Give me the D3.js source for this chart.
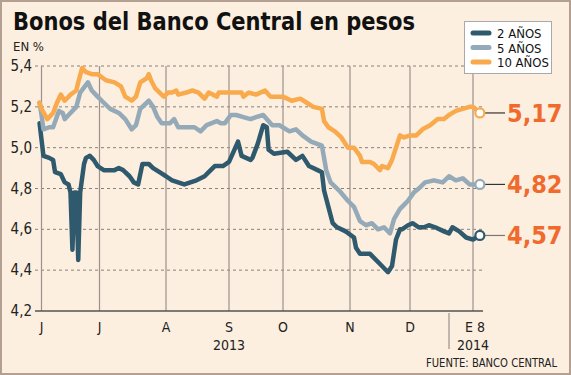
<!DOCTYPE html>
<html>
<head>
<meta charset="utf-8">
<script src="https://cdn.jsdelivr.net/npm/d3@7"></script>
<style>
  body { margin: 0; background: #fff; }
  svg text { font-family: "DejaVu Sans Condensed", "Liberation Sans Narrow", "DejaVu Sans", sans-serif; }
</style>
</head>
<body>
<svg id="chart" width="571" height="375"></svg>
<script>
// Bonos del Banco Central en pesos, tasas en %

const seriesNames = ["2 AÑOS", "5 AÑOS", "10 AÑOS"];
const seriesColors = ["#2f5a6e", "#94aab8", "#f8aa4c"];

const yTicks = [4.2, 4.4, 4.6, 4.8, 5.0, 5.2, 5.4];

// month marks on the x axis (the source spaces them unevenly)
const monthDates = ["2013-06-01", "2013-07-01", "2013-08-01", "2013-09-01", "2013-10-01",
                    "2013-11-01", "2013-12-01", "2014-01-08"];
const monthLabels = ["J", "J", "A", "S", "O", "N", "D", "E 8"];
const yearLabels = [["2013-09-01", "2013"], ["2014-01-08", "2014"]];
const yearBreak = "2014-01-01";

const bono2 = [
  ["2013-05-31",5.12],["2013-06-02",4.96],["2013-06-05",4.95],["2013-06-07",4.94],["2013-06-08",4.88],
  ["2013-06-11",4.87],["2013-06-13",4.83],["2013-06-15",4.82],["2013-06-16",4.78],["2013-06-17",4.50],
  ["2013-06-18",4.78],["2013-06-19",4.78],["2013-06-20",4.45],["2013-06-21",4.78],["2013-06-23",4.92],
  ["2013-06-24",4.95],["2013-06-26",4.96],["2013-06-28",4.94],["2013-06-30",4.91],["2013-07-03",4.89],
  ["2013-07-08",4.89],["2013-07-10",4.90],["2013-07-12",4.89],["2013-07-15",4.86],["2013-07-17",4.83],
  ["2013-07-19",4.82],["2013-07-21",4.92],["2013-07-24",4.92],["2013-07-26",4.90],["2013-07-29",4.88],
  ["2013-08-01",4.86],["2013-08-04",4.84],["2013-08-07",4.83],["2013-08-10",4.82],["2013-08-13",4.83],
  ["2013-08-16",4.84],["2013-08-20",4.86],["2013-08-22",4.88],["2013-08-25",4.91],["2013-08-29",4.91],
  ["2013-09-01",4.93],["2013-09-03",4.97],["2013-09-06",5.03],["2013-09-08",4.96],["2013-09-13",4.94],
  ["2013-09-14",4.95],["2013-09-17",5.02],["2013-09-20",5.11],["2013-09-22",5.10],["2013-09-23",4.99],
  ["2013-09-26",4.97],["2013-10-03",4.98],["2013-10-07",4.94],["2013-10-10",4.96],["2013-10-13",4.91],
  ["2013-10-17",4.89],["2013-10-19",4.88],["2013-10-20",4.79],["2013-10-22",4.71],["2013-10-24",4.63],
  ["2013-10-26",4.61],["2013-10-30",4.59],["2013-11-03",4.56],["2013-11-04",4.51],["2013-11-06",4.48],
  ["2013-11-11",4.48],["2013-11-16",4.43],["2013-11-20",4.39],["2013-11-22",4.42],["2013-11-24",4.55],
  ["2013-11-26",4.60],["2013-11-27",4.60],["2013-11-30",4.62],["2013-12-03",4.63],["2013-12-08",4.61],
  ["2013-12-12",4.61],["2013-12-16",4.62],["2013-12-21",4.61],["2013-12-28",4.59],["2014-01-01",4.58],
  ["2014-01-02",4.61],["2014-01-04",4.59],["2014-01-06",4.56],["2014-01-08",4.55],["2014-01-09",4.56],
  ["2014-01-10",4.57]
];

const bono5 = [
  ["2013-05-31",5.22],["2013-06-01",5.16],["2013-06-02",5.09],["2013-06-05",5.10],["2013-06-07",5.10],
  ["2013-06-10",5.18],["2013-06-12",5.17],["2013-06-13",5.14],["2013-06-15",5.16],["2013-06-19",5.20],
  ["2013-06-21",5.27],["2013-06-25",5.32],["2013-06-27",5.28],["2013-06-30",5.25],["2013-07-03",5.22],
  ["2013-07-06",5.19],["2013-07-10",5.17],["2013-07-13",5.14],["2013-07-16",5.09],["2013-07-18",5.11],
  ["2013-07-20",5.19],["2013-07-23",5.22],["2013-07-24",5.23],["2013-07-26",5.20],["2013-07-28",5.15],
  ["2013-07-30",5.12],["2013-08-03",5.12],["2013-08-05",5.14],["2013-08-07",5.10],["2013-08-11",5.10],
  ["2013-08-15",5.10],["2013-08-18",5.08],["2013-08-21",5.11],["2013-08-26",5.13],["2013-08-28",5.12],
  ["2013-08-30",5.12],["2013-09-02",5.16],["2013-09-05",5.16],["2013-09-09",5.15],["2013-09-13",5.14],
  ["2013-09-16",5.15],["2013-09-20",5.16],["2013-09-25",5.11],["2013-09-29",5.11],["2013-10-04",5.08],
  ["2013-10-07",5.09],["2013-10-10",5.06],["2013-10-14",5.03],["2013-10-19",5.01],["2013-10-21",4.89],
  ["2013-10-23",4.83],["2013-10-27",4.79],["2013-10-31",4.74],["2013-11-03",4.71],["2013-11-06",4.64],
  ["2013-11-09",4.62],["2013-11-12",4.63],["2013-11-15",4.60],["2013-11-18",4.61],["2013-11-21",4.58],
  ["2013-11-23",4.65],["2013-11-26",4.70],["2013-11-28",4.72],["2013-11-30",4.74],["2013-12-04",4.78],
  ["2013-12-08",4.80],["2013-12-13",4.83],["2013-12-20",4.84],["2013-12-27",4.83],["2014-01-01",4.86],
  ["2014-01-03",4.84],["2014-01-05",4.85],["2014-01-07",4.82],["2014-01-10",4.82]
];

const bono10 = [
  ["2013-05-31",5.22],["2013-06-01",5.19],["2013-06-04",5.14],["2013-06-07",5.17],["2013-06-09",5.22],
  ["2013-06-11",5.26],["2013-06-13",5.23],["2013-06-16",5.26],["2013-06-19",5.28],["2013-06-20",5.32],
  ["2013-06-22",5.39],["2013-06-24",5.37],["2013-06-27",5.36],["2013-06-30",5.36],["2013-07-04",5.33],
  ["2013-07-08",5.32],["2013-07-11",5.30],["2013-07-13",5.25],["2013-07-16",5.23],["2013-07-18",5.25],
  ["2013-07-20",5.32],["2013-07-23",5.34],["2013-07-24",5.36],["2013-07-25",5.33],["2013-07-27",5.29],
  ["2013-07-30",5.26],["2013-07-31",5.25],["2013-08-02",5.27],["2013-08-04",5.27],["2013-08-06",5.28],
  ["2013-08-07",5.26],["2013-08-11",5.27],["2013-08-14",5.28],["2013-08-17",5.27],["2013-08-20",5.24],
  ["2013-08-22",5.27],["2013-08-26",5.25],["2013-08-27",5.27],["2013-08-30",5.27],["2013-09-04",5.27],
  ["2013-09-08",5.27],["2013-09-09",5.25],["2013-09-12",5.27],["2013-09-16",5.26],["2013-09-21",5.28],
  ["2013-09-24",5.25],["2013-10-01",5.25],["2013-10-05",5.23],["2013-10-09",5.24],["2013-10-12",5.22],
  ["2013-10-15",5.20],["2013-10-19",5.19],["2013-10-20",5.13],["2013-10-22",5.10],["2013-10-25",5.08],
  ["2013-10-28",5.05],["2013-10-31",5.00],["2013-11-03",5.00],["2013-11-06",4.96],["2013-11-07",4.93],
  ["2013-11-11",4.93],["2013-11-13",4.92],["2013-11-16",4.89],["2013-11-17",4.91],["2013-11-20",4.90],
  ["2013-11-22",4.94],["2013-11-24",5.00],["2013-11-26",5.06],["2013-11-28",5.05],["2013-12-01",5.06],
  ["2013-12-06",5.06],["2013-12-11",5.09],["2013-12-17",5.11],["2013-12-23",5.14],["2013-12-28",5.14],
  ["2014-01-01",5.16],["2014-01-03",5.18],["2014-01-05",5.19],["2014-01-07",5.20],["2014-01-08",5.20],
  ["2014-01-10",5.17]
];

const allSeries = [bono2, bono5, bono10];

// ─────────────────────────────────────────────
const parse = d3.timeParse("%Y-%m-%d");
const fmt = d3.formatLocale({ decimal: ",", thousands: ".", grouping: [3], currency: ["$", ""] });
const fmtTick = fmt.format(".1f"), fmtLast = fmt.format(".2f");

const W = 571, H = 375;
const plotTop = 66, plotBottom = 311, plotLeft = 35, plotRight = 483;

const svg = d3.select("#chart");

// background and frame
svg.append("rect").attr("x", 1).attr("y", 1).attr("width", W - 2).attr("height", H - 2)
    .attr("fill", "#fcefdf").attr("stroke", "#b4a092").attr("stroke-width", 2);

// piecewise time scale, so the month marks land where the source has them
const xScale = d3.scaleTime()
    .domain(["2013-06-01", "2013-07-01", "2013-08-01", "2013-09-01", "2013-10-01",
             "2013-11-01", "2013-12-01", "2014-01-01", "2014-01-08"].map(parse))
    .range([41.5, 99.5, 166, 229, 283, 350, 410, 449, 473]);

const yScale = d3.scaleLinear().domain([4.2, 5.4]).range([plotBottom, plotTop]);

// title
svg.append("text")
    .attr("x", 13).attr("y", 30)
    .attr("font-size", 24).attr("font-weight", "bold").attr("fill", "#111")
    .attr("textLength", 402).attr("lengthAdjust", "spacingAndGlyphs")
    .text("Bonos del Banco Central en pesos");

svg.append("text")
    .attr("x", 13).attr("y", 51)
    .attr("font-size", 13).attr("fill", "#222")
    .text("EN %");

// horizontal dashed grid + y labels
const yg = svg.append("g");
yTicks.filter(t => t > 4.2).forEach(t => {
    yg.append("line")
        .attr("x1", plotLeft).attr("x2", plotRight)
        .attr("y1", yScale(t)).attr("y2", yScale(t))
        .attr("stroke", "#8a817a").attr("stroke-width", 1)
        .attr("stroke-dasharray", "3,3");
});
yTicks.forEach(t => {
    yg.append("text")
        .attr("x", 32).attr("y", yScale(t) + 5)
        .attr("text-anchor", "end")
        .attr("font-size", 15).attr("fill", "#222")
        .text(fmtTick(t));
});

// vertical month lines
monthDates.forEach(d => {
    const x = xScale(parse(d));
    svg.append("line")
        .attr("x1", x).attr("x2", x)
        .attr("y1", plotTop).attr("y2", plotBottom)
        .attr("stroke", "#9b918a").attr("stroke-width", 1.2);
});

// baseline
svg.append("line")
    .attr("x1", plotLeft).attr("x2", plotRight)
    .attr("y1", plotBottom).attr("y2", plotBottom)
    .attr("stroke", "#555").attr("stroke-width", 1.5);

// year separator
const xb = xScale(parse(yearBreak));
svg.append("line")
    .attr("x1", xb).attr("x2", xb)
    .attr("y1", plotBottom + 2).attr("y2", 349)
    .attr("stroke", "#9b918a").attr("stroke-width", 1.2);

// month labels
monthDates.forEach((d, i) => {
    svg.append("text")
        .attr("x", xScale(parse(d)) + (i === monthDates.length - 1 ? 2 : 0))
        .attr("y", 332)
        .attr("text-anchor", "middle")
        .attr("font-size", 14).attr("fill", "#222")
        .text(monthLabels[i]);
});
yearLabels.forEach(([d, label]) => {
    svg.append("text")
        .attr("x", xScale(parse(d)))
        .attr("y", 350)
        .attr("text-anchor", "middle")
        .attr("font-size", 14).attr("fill", "#222")
        .text(label);
});

// lines
const line = d3.line()
    .x(d => xScale(parse(d[0])))
    .y(d => yScale(d[1]));

allSeries.forEach((s, i) => {
    svg.append("path")
        .datum(s)
        .attr("fill", "none")
        .attr("stroke", seriesColors[i])
        .attr("stroke-width", 4.5)
        .attr("stroke-linejoin", "round")
        .attr("stroke-linecap", "round")
        .attr("d", line);
});

// end markers + value labels
const leaderColors = ["#777", "#333", "#333"];
allSeries.forEach((s, i) => {
    const last = s[s.length - 1];
    const cx = xScale(parse(last[0])), cy = yScale(last[1]);
    svg.append("line")
        .attr("x1", cx + 5).attr("x2", 505)
        .attr("y1", cy).attr("y2", cy)
        .attr("stroke", leaderColors[i]).attr("stroke-width", 1.2);
    svg.append("circle")
        .attr("cx", cx).attr("cy", cy).attr("r", 4.5)
        .attr("fill", "#fff")
        .attr("stroke", seriesColors[i]).attr("stroke-width", 2.2);
    svg.append("text")
        .attr("x", 507).attr("y", cy + 9)
        .attr("font-size", 25).attr("font-weight", "bold")
        .attr("fill", "#f06a2e")
        .text(fmtLast(last[1]));
});

// legend
const lg = svg.append("g");
lg.append("rect")
    .attr("x", 464.5).attr("y", 21.5).attr("width", 87).attr("height", 52)
    .attr("fill", "#fff").attr("stroke", "#a9a9a9").attr("stroke-width", 1);
seriesNames.forEach((name, i) => {
    const y = 33 + i * 14.5;
    lg.append("line")
        .attr("x1", 473).attr("x2", 489)
        .attr("y1", y).attr("y2", y)
        .attr("stroke", seriesColors[i]).attr("stroke-width", 5)
        .attr("stroke-linecap", "round");
    lg.append("text")
        .attr("x", 497).attr("y", y + 5)
        .attr("font-size", 13).attr("fill", "#111")
        .text(name);
});

// source
svg.append("text")
    .attr("x", 557).attr("y", 367)
    .attr("text-anchor", "end")
    .attr("font-size", 12).attr("fill", "#222")
    .attr("textLength", 131).attr("lengthAdjust", "spacingAndGlyphs")
    .text("FUENTE: BANCO CENTRAL");
</script>
</body>
</html>
